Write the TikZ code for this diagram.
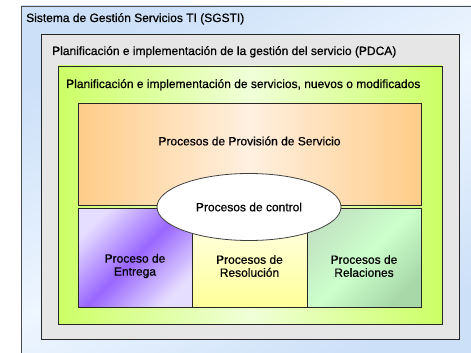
\documentclass[tikz,border=0pt]{standalone}
\usepackage{fontspec}
\setmainfont{Liberation Sans}
\newfontfamily\labelfont{Liberation Sans}[FakeBold=0.6]
\usetikzlibrary{shapes.geometric}

\definecolor{sgstiblue}{HTML}{CCE0F8}
\definecolor{sgstilight}{HTML}{EEF6FF}
\definecolor{pdcagray}{HTML}{E6E6E6}
\definecolor{limegreen}{HTML}{CCFF66}
\definecolor{limelight}{HTML}{F0FFD8}
\definecolor{provorange}{HTML}{FFCC88}
\definecolor{provlight}{HTML}{FFF0E0}
\definecolor{lavender}{HTML}{E6DEFF}
\definecolor{violet}{HTML}{9966FF}
\definecolor{paleyellow}{HTML}{FFFFEE}
\definecolor{yellowish}{HTML}{FFFF99}
\definecolor{palegreen}{HTML}{CCFFCC}
\definecolor{sagegreen}{HTML}{A8D8A8}

\begin{document}
\begin{tikzpicture}[x=1pt,y=-1pt,
  box/.style={draw=black!85,line width=0.8pt},
  title/.style={font=\labelfont\fontsize{12}{13}\selectfont,inner sep=0pt,anchor=base west},
  proc/.style={font=\labelfont\fontsize{12}{13}\selectfont,align=center,inner sep=0pt}]
\useasboundingbox (0,0) rectangle (471,353);
%draw frames:
\draw[box,draw=black!70,top color=sgstiblue,bottom color=sgstiblue,middle color=sgstilight,shading angle=30]
  (21,6) rectangle (485,365);
\draw[box,fill=pdcagray] (41,34) rectangle (459,339);
\draw[box,left color=limegreen,right color=limegreen,middle color=limelight] (58,66) rectangle (442,324);
%draw processes:
\draw[box,left color=provorange,right color=provorange,middle color=provlight] (78,103) rectangle (421,205);
\draw[box,left color=lavender,right color=lavender,middle color=violet,shading angle=45] (78,208) rectangle (192,307);
\draw[box,top color=paleyellow,bottom color=yellowish] (192,208) rectangle (307,307);
\draw[box,left color=sagegreen!70,right color=sagegreen,middle color=palegreen,shading angle=45] (307,208) rectangle (421,307);
%draw labels:
\node[title] (sgsti) at (26,22) {Sistema de Gestión Servicios TI (SGSTI)};
\node[title] (pdca) at (52,55) {Planificación e implementación de la gestión del servicio (PDCA)};
\node[title] (nuevos) at (66,88) {Planificación e implementación de servicios, nuevos o modificados};
\node[proc] (provision) at (249.5,141) {Procesos de Provisión de Servicio};
\node[proc] (entrega) at (135,266) {Proceso de\\Entrega};
\node[proc] (resolucion) at (249.5,266) {Procesos de\\Resolución};
\node[proc] (relaciones) at (364,266) {Procesos de\\Relaciones};
\node[ellipse,draw=black!75,line width=0.8pt,fill=white,minimum width=184pt,minimum height=67pt,
  font=\labelfont\fontsize{12}{13}\selectfont] (control) at (249,207) {Procesos de control};
\end{tikzpicture}
\end{document}
